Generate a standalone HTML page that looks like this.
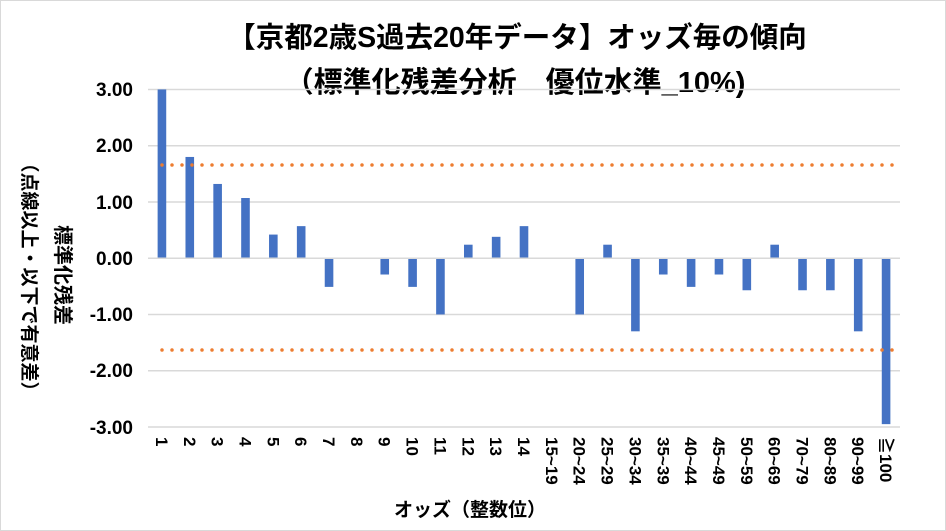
<!DOCTYPE html>
<html><head><meta charset="utf-8"><style>
html,body{margin:0;padding:0;background:#fff}
svg{display:block}
text{font-family:"Liberation Sans","Noto Sans CJK JP",sans-serif;font-weight:bold;fill:#000}
</style></head><body>
<svg width="946" height="531" viewBox="0 0 946 531" xmlns="http://www.w3.org/2000/svg">
<rect x="0.5" y="0.5" width="945" height="530" fill="#fff" stroke="#d9d9d9"/>
<text x="517" y="47" font-size="28.5" text-anchor="middle">【京都2歳S過去20年データ】オッズ毎の傾向</text>
<text x="515" y="92" font-size="29" text-anchor="middle">（標準化残差分析　優位水準_10%)</text>
<g stroke="#d9d9d9" stroke-width="1.5">
<line x1="148" x2="900" y1="89.5" y2="89.5"/>
<line x1="148" x2="900" y1="145.8" y2="145.8"/>
<line x1="148" x2="900" y1="202" y2="202"/>
<line x1="148" x2="900" y1="314.5" y2="314.5"/>
<line x1="148" x2="900" y1="370.8" y2="370.8"/>
<line x1="148" x2="900" y1="427" y2="427"/>
</g>
<g font-size="19" text-anchor="end">
<text x="133" y="96">3.00</text>
<text x="133" y="152">2.00</text>
<text x="133" y="209">1.00</text>
<text x="133" y="265">0.00</text>
<text x="133" y="321">-1.00</text>
<text x="133" y="377">-2.00</text>
<text x="133" y="434">-3.00</text>
</g>
<g id="bars" fill="#4472c4"></g>
<line x1="148" x2="900" y1="258.2" y2="258.2" stroke="#d9d9d9" stroke-width="1.5"/>
<g stroke="#ed7d31" stroke-width="3.5" stroke-linecap="round" stroke-dasharray="0 10">
<line x1="162" x2="900" y1="165" y2="165"/>
<line x1="162" x2="900" y1="350" y2="350"/>
</g>
<g id="ticks" font-size="17"></g>
<text font-size="19" transform="translate(23,277) rotate(90)" text-anchor="middle">（点線以上・以下で有意差）</text>
<text font-size="20" transform="translate(56,275) rotate(90)" text-anchor="middle">標準化残差</text>
<text x="470" y="516" font-size="19" text-anchor="middle">オッズ（整数位）</text>
<script>
var labels=["1","2","3","4","5","6","7","8","9","10","11","12","13","14","15~19","20~24","25~29","30~34","35~39","40~44","45~49","50~59","60~69","70~79","80~89","90~99","≧100"];
var vals=[3.00,1.80,1.32,1.07,0.42,0.57,-0.51,0,-0.29,-0.51,-1.00,0.24,0.38,0.57,0,-1.00,0.24,-1.30,-0.29,-0.51,-0.29,-0.57,0.24,-0.57,-0.57,-1.30,-2.95];
var ns="http://www.w3.org/2000/svg",b=document.getElementById("bars"),t=document.getElementById("ticks");
var z=258.2,u=56.25,step=752/27;
for(var i=0;i<27;i++){var cx=148+step*(i+0.5);var v=vals[i];
if(v!==0){var r=document.createElementNS(ns,"rect");var h=Math.abs(v)*u;
r.setAttribute("x",cx-4.3);r.setAttribute("width",8.6);r.setAttribute("y",v>0?z-h:z);r.setAttribute("height",h);b.appendChild(r);}
var tx=document.createElementNS(ns,"text");tx.setAttribute("transform","translate("+(cx-6)+",437) rotate(90)");tx.textContent=labels[i];t.appendChild(tx);}
</script>
</svg>
</body></html>
